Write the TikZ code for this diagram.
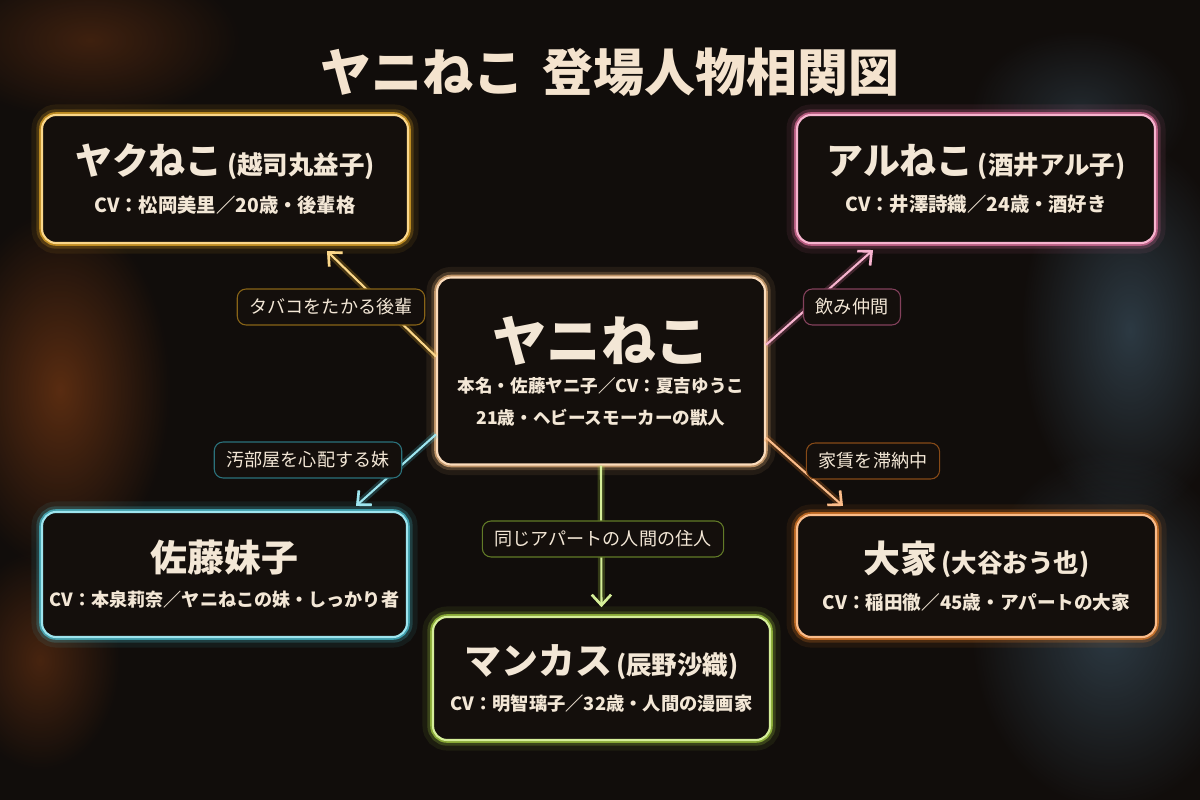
\documentclass[tikz,border=0pt]{standalone}
\usepackage{fontspec}
\setmainfont{Noto Sans CJK JP}
\usetikzlibrary{arrows.meta, positioning, calc, fadings}

\definecolor{bgdark}{HTML}{110D0B}
\definecolor{boxfill}{HTML}{140F0C}
\definecolor{cream}{HTML}{F3E7D6}
\definecolor{gold}{HTML}{F7B62A}
\definecolor{rose}{HTML}{F077A8}
\definecolor{peach}{HTML}{F8C085}
\definecolor{aqua}{HTML}{4FCFE2}
\definecolor{amber}{HTML}{F5862A}
\definecolor{lime}{HTML}{B2E046}
\definecolor{smokeorange}{HTML}{A84E18}
\definecolor{smokeblue}{HTML}{4A6A80}
\tikzfading[name=smokefade, inner color=transparent!40, outer color=transparent!100]

\newcommand{\namefont}{\fontsize{21}{25}\selectfont\bfseries}
\newcommand{\kanafont}{\fontsize{14.5}{25}\selectfont\bfseries}
\newcommand{\cvfont}{\fontsize{11}{14}\selectfont\bfseries}

\begin{document}
\begin{tikzpicture}[x=0.02cm, y=-0.02cm,
  card/.style={rectangle, rounded corners=8pt, fill=boxfill, text=cream, align=center,
    preaction={draw=#1, line width=12pt, draw opacity=0.08},
    preaction={draw=#1, line width=6.5pt, draw opacity=0.2},
    preaction={draw=#1, line width=3.2pt, draw opacity=0.65},
    draw=#1!55!white, line width=1.2pt},
  tag/.style={rectangle, rounded corners=5pt, fill=boxfill, draw=#1!55!black, line width=0.6pt,
    text=cream, font=\fontsize{10.3}{12}\selectfont, minimum height=0.72cm, inner xsep=7pt},
  link/.style={preaction={draw=#1, line width=4pt, draw opacity=0.22},
    draw=#1!55!white, line width=1.2pt, -{Straight Barb[length=6pt, width=11pt, line width=1.5pt]}},
  smoke/.style={fill=#1, path fading=smokefade}
]
% background and smoke
\fill[bgdark] (0,0) rectangle (1200,800);
\useasboundingbox (0,0) rectangle (1200,800);
\fill[smoke=smokeorange, fill opacity=0.5] (90,40) ellipse (150 and 80);
\fill[smoke=smokeorange, fill opacity=0.8] (60,390) ellipse (110 and 180);
\fill[smoke=smokeorange, fill opacity=0.6] (40,660) ellipse (80 and 110);
\fill[smoke=smokeblue, fill opacity=0.8] (1130,330) ellipse (110 and 190);
\fill[smoke=smokeblue, fill opacity=0.8] (1110,630) ellipse (140 and 180);
\fill[smoke=smokeblue, fill opacity=0.5] (1080,110) ellipse (110 and 80);

% title
\node[font=\fontsize{29}{34}\selectfont\bfseries, text=cream!90!peach] (title) at (610,72) {ヤニねこ\hspace{0.35em}登場人物相関図};

% characters
\node[card=gold, minimum width=7.32cm, minimum height=2.56cm] (yaku) at (225,179)
  {{\namefont ヤクねこ}{\kanafont\,(越司丸益子)}\\[8pt]{\cvfont CV：松岡美里／20歳・後輩格}};
\node[card=rose, minimum width=7.16cm, minimum height=2.56cm] (aru) at (976,179)
  {{\namefont アルねこ}{\kanafont\,(酒井アル子)}\\[8pt]{\cvfont CV：井澤詩織／24歳・酒好き}};
\node[card=peach, minimum width=6.56cm, minimum height=3.74cm] (yani) at (601,371)
  {{\fontsize{31}{36}\selectfont\bfseries ヤニねこ}\\[6pt]{\fontsize{10}{14}\selectfont\bfseries 本名・佐藤ヤニ子／CV：夏吉ゆうこ}\\[6pt]{\fontsize{10}{14}\selectfont\bfseries 21歳・ヘビースモーカーの獣人}};
\node[card=aqua, minimum width=7.3cm, minimum height=2.5cm] (sato) at (224.5,574.5)
  {{\namefont 佐藤妹子}\\[8pt]{\fontsize{10.3}{14}\selectfont\bfseries CV：本泉莉奈／ヤニねこの妹・しっかり者}};
\node[card=amber, minimum width=7.18cm, minimum height=2.44cm] (ooya) at (976.5,576)
  {{\namefont 大家}{\kanafont\,(大谷おう也)}\\[8pt]{\fontsize{10.6}{14}\selectfont\bfseries CV：稲田徹／45歳・アパートの大家}};
\node[card=lime, minimum width=6.74cm, minimum height=2.46cm] (man) at (601.5,678.5)
  {{\namefont マンカス}{\kanafont\,(辰野沙織)}\\[8pt]{\fontsize{10.4}{14}\selectfont\bfseries CV：明智璃子／32歳・人間の漫画家}};

% relations
\draw[link=gold] (yani.175) -- ($(yaku.south)+(102,7)$);
\draw[link=rose] (yani.9) -- ($(aru.south)+(-103,6)$);
\draw[link=aqua] (yani.201) -- ($(sato.north)+(131.5,-5)$);
\draw[link=amber] (yani.338) -- ($(ooya.north)+(-133.5,-8)$);
\draw[link=lime, shorten >=5pt] (yani.south) -- (man.north);

% relation labels
\node[tag=gold] (tyaku) at (331,307) {タバコをたかる後輩};
\node[tag=rose] (taru) at (852,307) {飲み仲間};
\node[tag=aqua] (tsato) at (308,460) {汚部屋を心配する妹};
\node[tag=amber] (tooya) at (873,461) {家賃を滞納中};
\node[tag=lime] (tman) at (603,539) {同じアパートの人間の住人};
\end{tikzpicture}
\end{document}
